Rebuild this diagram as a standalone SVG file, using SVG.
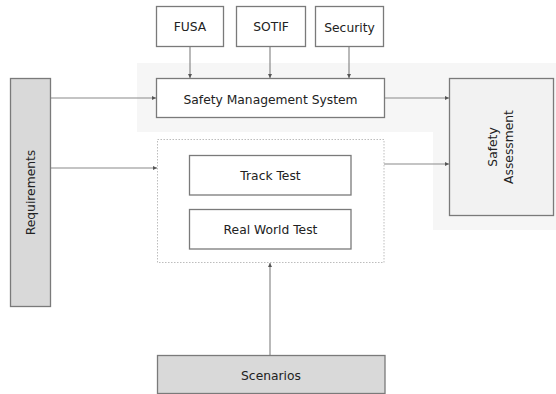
<svg xmlns="http://www.w3.org/2000/svg" width="556" height="394" viewBox="0 0 556 394">
<style>
.box{fill:#fff;stroke:#7a7a7a;stroke-width:1.3}
.grey{fill:#d9d9d9;stroke:#7a7a7a;stroke-width:1.3}
.sa{fill:#f2f2f2;stroke:#7a7a7a;stroke-width:1.3}
.cont{fill:#fff;stroke:#bdbdbd;stroke-width:1;stroke-dasharray:1.5 1.5}
.lbl{font-family:"DejaVu Sans",sans-serif;font-size:12.3px;fill:#222;text-anchor:middle}
.ln{stroke:#8a8a8a;stroke-width:1.2;fill:none;marker-end:url(#ah)}
</style>
<defs>
<marker id="ah" viewBox="0 0 6 6" refX="6" refY="3" markerWidth="4" markerHeight="4" orient="auto" markerUnits="userSpaceOnUse">
<path d="M0,0 L6,3 L0,6 z" fill="#555"/>
</marker>
</defs>
<rect width="556" height="394" fill="#fff"/>
<path d="M137,63 H556 V230 H433 V132 H137 Z" fill="#f6f6f6"/>
<g id="connectors">
<line class="ln" x1="190" y1="46" x2="190" y2="78"/>
<line class="ln" x1="270" y1="46" x2="270" y2="78"/>
<line class="ln" x1="349" y1="46" x2="349" y2="78"/>
<line class="ln" x1="51" y1="98" x2="156" y2="98"/>
<line class="ln" x1="51" y1="168" x2="157" y2="168"/>
<line class="ln" x1="384" y1="98" x2="449" y2="98"/>
<line class="ln" x1="384" y1="164" x2="449" y2="164"/>
<line class="ln" x1="270" y1="355" x2="270" y2="263"/>
</g>
<g id="fusa"><rect class="box" x="156.5" y="6.5" width="67" height="40"/><text class="lbl" x="190" y="31">FUSA</text></g>
<g id="sotif"><rect class="box" x="236.5" y="6.5" width="69" height="40"/><text class="lbl" x="271" y="31">SOTIF</text></g>
<g id="security"><rect class="box" x="315.5" y="6.5" width="68" height="40"/><text class="lbl" x="349.5" y="32">Security</text></g>
<g id="sms"><rect class="box" x="156.5" y="78.5" width="228" height="39"/><text class="lbl" x="270.5" y="103.5">Safety Management System</text></g>
<g id="requirements"><rect class="grey" x="10.5" y="78.5" width="40" height="228"/><text class="lbl" transform="translate(34.5,192.5) rotate(-90)">Requirements</text></g>
<g id="testing"><rect class="cont" x="157.5" y="139.5" width="226.5" height="123"/></g>
<g id="track"><rect class="box" x="189.5" y="155.5" width="161.5" height="39.5"/><text class="lbl" x="270.5" y="180">Track Test</text></g>
<g id="realworld"><rect class="box" x="189.5" y="209.5" width="161.5" height="39.5"/><text class="lbl" x="270.5" y="234">Real World Test</text></g>
<g id="assessment"><rect class="sa" x="449.5" y="78.5" width="104" height="137"/><text class="lbl" transform="translate(500,147) rotate(-90)"><tspan x="0" y="-3">Safety</tspan><tspan x="0" y="13">Assessment</tspan></text></g>
<g id="scenarios"><rect class="grey" x="157.5" y="355.5" width="227.5" height="38"/><text class="lbl" x="271" y="379.5">Scenarios</text></g>
</svg>
